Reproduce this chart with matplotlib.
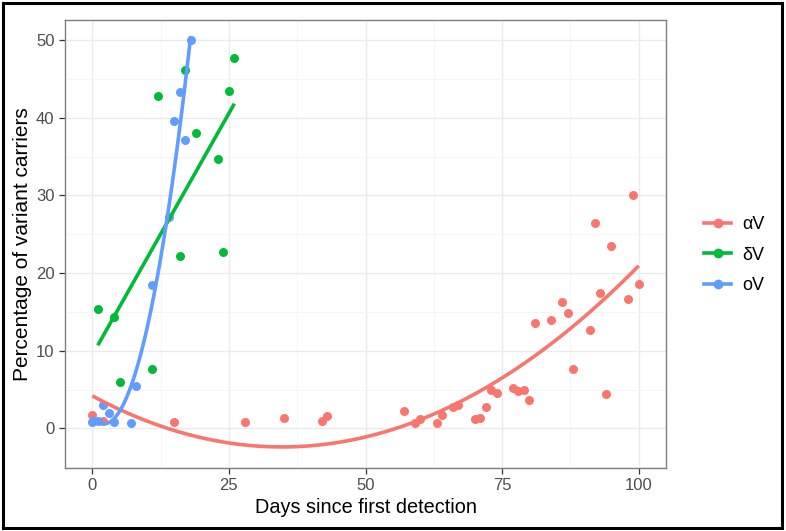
import numpy as np
import matplotlib
matplotlib.use("Agg")
import matplotlib.pyplot as plt
from matplotlib.lines import Line2D
from matplotlib.patches import Rectangle

plt.rcParams['font.family'] = ['Liberation Sans', 'DejaVu Sans']

# alpha variant
alpha_days = [0, 2, 15, 28, 35, 42, 43, 57, 59, 60, 63, 64, 66, 67, 70, 71, 72, 73, 74,
              77, 78, 79, 80, 81, 84, 86, 87, 88, 91, 92, 93, 94, 95, 98, 99, 100]
alpha_pct = [1.7, 1.0, 0.8, 0.8, 1.4, 0.9, 1.6, 2.2, 0.7, 1.2, 0.7, 1.7, 2.8, 3.0, 1.2, 1.3, 2.8, 5.0, 4.5,
             5.2, 4.8, 5.0, 3.7, 13.6, 13.9, 16.3, 14.9, 7.7, 12.7, 26.4, 17.4, 4.4, 23.5, 16.7, 30.0, 18.6]

# delta variant
delta_days = [1, 4, 5, 11, 12, 16, 17, 19, 23, 24, 25, 26]
delta_pct = [15.4, 14.3, 6.0, 7.7, 42.8, 22.2, 46.2, 38.1, 34.7, 22.7, 43.5, 47.7]

# omicron variant
omicron_days = [0, 1, 2, 3, 4, 7, 8, 11, 14, 15, 16, 17, 18]
omicron_pct = [0.8, 0.9, 3.0, 2.0, 0.8, 0.7, 5.4, 18.5, 27.2, 39.6, 43.3, 37.2, 50.0]

labels = ["αV", "δV", "οV"]
colors = ["#F8766D", "#00BA38", "#619CFF"]
degrees = [2, 1, 2]

fig = plt.figure(figsize=(7.86, 5.31), dpi=100)
ax = fig.add_axes([65 / 786, 1 - 468 / 531, (666 - 65) / 786, (468 - 20) / 531])

series = [(alpha_days, alpha_pct), (delta_days, delta_pct), (omicron_days, omicron_pct)]
for (xs, ys), col, deg in zip(series, colors, degrees):
    xs = np.array(xs, dtype=float)
    ys = np.array(ys, dtype=float)
    ax.scatter(xs, ys, s=42, color=col, zorder=3, linewidths=0)
    # polynomial smooth, like geom_smooth(method = "lm")
    coef = np.polyfit(xs, ys, deg)
    xx = np.linspace(xs.min(), xs.max(), 100)
    ax.plot(xx, np.polyval(coef, xx), color=col, lw=2.6, zorder=4,
            solid_capstyle="butt")

ax.set_xlim(-5, 105)
ax.set_ylim(-5.1, 52.6)
ax.set_xticks([0, 25, 50, 75, 100])
ax.set_yticks([0, 10, 20, 30, 40, 50])
ax.set_xticks([12.5, 37.5, 62.5, 87.5], minor=True)
ax.set_yticks([-5, 5, 15, 25, 35, 45], minor=True)
ax.grid(True, which="major", color="#EBEBEB", lw=1.0, zorder=0)
ax.grid(True, which="minor", color="#F4F4F4", lw=0.6, zorder=0)
ax.set_axisbelow(True)
for sp in ax.spines.values():
    sp.set_color("#7F7F7F")
    sp.set_linewidth(1.0)
ax.tick_params(which="major", length=4, color="#333333", labelsize=12,
               labelcolor="#4D4D4D", width=0.9)
ax.tick_params(which="minor", length=0)
ax.set_xlabel("Days since first detection", fontsize=14.3, labelpad=3)
ax.set_ylabel("Percentage of variant carriers", fontsize=15, labelpad=3)

handles = [Line2D([0], [0], color=c, lw=2.6, marker="o", markersize=6) for c in colors]
fig.legend(handles, labels, loc="center left", bbox_to_anchor=(688 / 786, 1 - 255 / 531),
           frameon=False, fontsize=13, handlelength=1.5, handletextpad=0.6, labelspacing=0.75)

fig.add_artist(Rectangle((3 / 786, 3 / 531), 779 / 786, 525 / 531, transform=fig.transFigure,
                         fill=False, edgecolor="black", lw=2.2))

fig.savefig("out.png", dpi=100)
